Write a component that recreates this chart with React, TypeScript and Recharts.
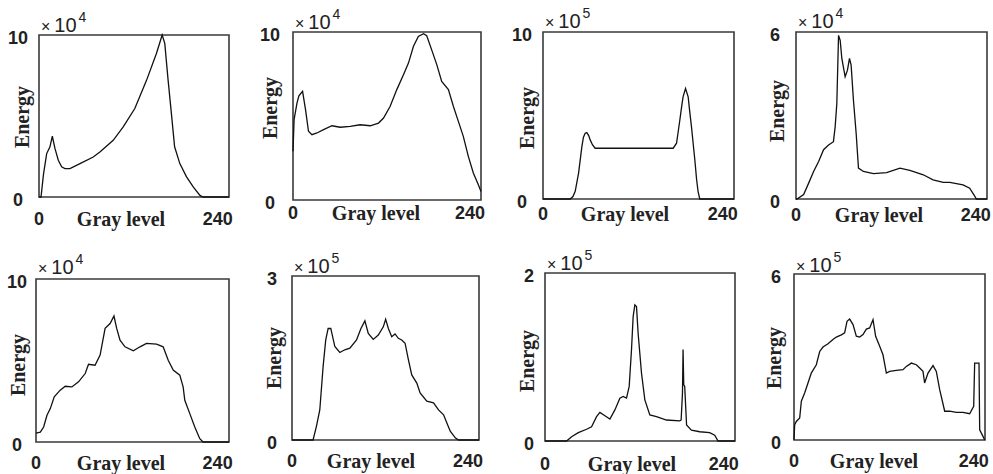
import React from "react";
import { LineChart, Line, XAxis, YAxis, ReferenceArea } from "recharts";

type Pt = [number, number];

// gray level, energy (in units of the panel's ×10^n)
const hist1: Pt[] = [
  [0, 0], [2.7, 0], [6, 1.4], [10.3, 2.68], [14.7, 3.1], [17.9, 3.75], [21.4, 3.0], [25.9, 2.27],
  [30.4, 1.86], [34.8, 1.75], [41.5, 1.75], [55, 2.06], [72.8, 2.47], [81.7, 2.78], [99.6, 3.5],
  [113, 4.33], [128.6, 5.46], [144.3, 7.2], [157.7, 8.87], [165.3, 10], [168.8, 9.48], [173.3, 7.2],
  [177.7, 5.15], [182, 3.1], [189, 2.06], [198, 1.24], [207, 0.62], [216, 0.1], [220, 0], [255, 0],
];
const hist2: Pt[] = [
  [0, 2.9], [1.5, 4.8], [5.4, 5.77], [8, 6.2], [13, 6.47], [17, 5.38], [21, 4.09], [25.7, 3.89],
  [32.5, 3.99], [41.5, 4.19], [52.8, 4.42], [64, 4.33], [77.6, 4.38], [91, 4.48], [104.7, 4.42],
  [116, 4.58], [122.8, 4.88], [131.8, 5.58], [140.8, 6.57], [149.8, 7.46], [156.6, 8.15],
  [163.4, 9.15], [170, 9.74], [177, 9.9], [181.4, 9.78], [188, 8.95], [195, 8.06], [201.7, 7.06],
  [210.8, 6.57], [217.5, 5.58], [224.3, 4.68], [231, 3.79], [237.8, 2.6], [244.6, 1.61],
  [251.4, 0.91], [255, 0.5],
];
const hist3: Pt[] = [
  [0, 0], [36.4, 0], [40, 0.15], [43, 0.46], [47.5, 1.55], [51.9, 3.14], [54, 3.7], [56.3, 3.94],
  [58.5, 3.98], [61, 3.8], [63, 3.54], [66, 3.25], [69.6, 3.04], [173.8, 3.04], [178.3, 3.34],
  [182.7, 4.73], [185, 5.5], [187, 6.12], [190.3, 6.62], [193.8, 6.12], [195.5, 5.4], [198.2, 4.33],
  [202.7, 2.35], [205, 1.2], [207, 0.46], [209.3, 0], [255, 0],
];
const hist4: Pt[] = [
  [0, 0], [1.3, 0], [10.2, 0.16], [16.9, 0.57], [23.5, 0.99], [30.2, 1.35], [36.8, 1.77],
  [43.5, 1.94], [50, 2.06], [52.3, 2.6], [54.5, 3.43], [56.8, 5.88], [59, 5.7], [61.2, 5.05],
  [65.6, 4.39], [68.7, 4.63], [71.4, 5.05], [73.6, 4.81], [76.7, 3.55], [80.3, 2.36], [83.4, 1.11],
  [90, 0.99], [103.3, 0.91], [121, 0.95], [138.8, 1.11], [152, 1.03], [169.9, 0.87], [183, 0.69],
  [196.5, 0.6], [205.3, 0.6], [223, 0.51], [231.9, 0.39], [238.6, 0.1], [240.8, 0], [255, 0],
];
const hist5: Pt[] = [
  [0, 0.55], [5.7, 0.61], [10.1, 0.92], [14.5, 1.64], [18.9, 2.05], [24.1, 2.77], [32, 3.18],
  [38.6, 3.42], [47.4, 3.38], [56.2, 3.69], [65, 4.2], [69.4, 4.77], [78, 4.71], [84.7, 5.33],
  [91.3, 6.97], [97.9, 7.27], [103, 7.73], [106.6, 6.97], [111, 6.25], [117.6, 5.84], [128.6, 5.59],
  [137.4, 5.84], [146, 6.05], [159.3, 6.0], [168, 5.84], [174.7, 5.02], [181.3, 4.41], [190, 4.1],
  [194.4, 3.38], [196.6, 2.56], [203.2, 1.74], [209.8, 0.92], [216.4, 0.2], [220.8, 0], [255, 0],
];
const hist6: Pt[] = [
  [0, 0], [28.7, 0], [33.3, 0.25], [37.9, 0.55], [42.4, 1.34], [46, 1.83], [49.3, 2.04],
  [52.9, 2.04], [58.4, 1.71], [65.2, 1.6], [72, 1.65], [78.9, 1.68], [88, 1.83], [94, 2.04],
  [99.4, 2.18], [104, 1.95], [110.8, 1.84], [117.7, 1.92], [124.5, 2.07], [127.7, 2.21],
  [131.4, 2.04], [136, 1.89], [140.5, 1.94], [145, 1.86], [149.6, 1.83], [154.2, 1.77],
  [158.7, 1.47], [163.3, 1.19], [170.2, 1.04], [174.7, 0.86], [183.8, 0.71], [193, 0.68],
  [199.8, 0.55], [206.7, 0.46], [211.2, 0.31], [215.8, 0.16], [222.6, 0.04], [227.2, 0], [255, 0],
];
const hist7: Pt[] = [
  [0, 0], [29, 0], [35.7, 0.05], [44.7, 0.1], [55.8, 0.14], [62.5, 0.17], [69.2, 0.29],
  [73.7, 0.34], [80.4, 0.3], [87.1, 0.26], [93.8, 0.37], [100.5, 0.51], [104.9, 0.53],
  [109.4, 0.51], [113, 0.65], [116.1, 1.09], [118.3, 1.48], [120.6, 1.62], [122.8, 1.6],
  [125, 1.28], [129.5, 0.81], [134, 0.49], [140.7, 0.31], [149.6, 0.29], [163, 0.25],
  [180.9, 0.24], [182.7, 0.25], [184.5, 0.57], [185.3, 1.09], [186.2, 0.67], [187.5, 0.65],
  [190, 0.19], [196.5, 0.13], [207.7, 0.11], [221, 0.1], [227.8, 0.07], [232.2, 0], [255, 0],
];
const hist8: Pt[] = [
  [0, 0.01], [0.9, 0.55], [3.1, 0.67], [7.6, 0.8], [9.8, 1.4], [14.2, 1.7], [18.7, 2.06],
  [23.1, 2.42], [29.8, 2.72], [34.3, 3.2], [38.7, 3.36], [45.4, 3.48], [52, 3.63], [56.5, 3.72],
  [63.2, 3.8], [67.6, 3.87], [70.8, 4.29], [74.3, 4.37], [78.8, 4.17], [83.2, 3.75], [87.7, 3.72],
  [92.1, 3.81], [96.6, 4.01], [101, 4.05], [105.5, 4.35], [109, 3.75], [114.4, 3.39],
  [118.8, 3.08], [123.3, 2.42], [127.7, 2.48], [136.6, 2.52], [145.5, 2.54], [150, 2.66],
  [156.7, 2.78], [163.3, 2.72], [167.8, 2.6], [172.2, 2.48], [174.4, 2.06], [178.9, 2.42],
  [185.6, 2.69], [190, 2.48], [194.5, 1.82], [201.2, 1.04], [207.8, 1.04], [216.7, 1.0],
  [225.6, 1.0], [234.5, 0.95], [239.9, 1.22], [241.2, 2.78], [247, 2.78], [247.9, 0.37],
  [252.3, 0.13], [254.6, 0],
];

const histograms = [hist1, hist2, hist3, hist4, hist5, hist6, hist7, hist8];
const yMaxes = [10, 10, 10, 6, 10, 3, 2, 6];
const exponents = [4, 4, 5, 4, 4, 5, 5, 5];
const xTicks = [0, 240];
const xLabel = "Gray level";
const yLabel = "Energy";

// where each plot box sits on the page, plus small label offsets
const layout = [
  { left: 39, top: 35, w: 190, h: 162, yTickDx: 21, xTickDy: 22, grayDx: 82, energyDx: -17, energyDy: 1, expDy: -3 },
  { left: 293, top: 32, w: 188, h: 168, yTickDx: 23, xTickDy: 13, grayDx: 83, energyDx: -23, energyDy: -8, expDy: -3 },
  { left: 543, top: 32, w: 191, h: 167, yTickDx: 21, xTickDy: 15, grayDx: 82, energyDx: -16, energyDy: 2, expDy: -4 },
  { left: 796, top: 32, w: 191, h: 167, yTickDx: 21, xTickDy: 16, grayDx: 83, energyDx: -19, energyDy: -5, expDy: -4 },
  { left: 36, top: 279, w: 193, h: 163, yTickDx: 19, xTickDy: 21, grayDx: 85, energyDx: -18, energyDy: 4, expDy: -5 },
  { left: 292, top: 276, w: 187, h: 164, yTickDx: 20, xTickDy: 21, grayDx: 79, energyDx: -18, energyDy: 0, expDy: -3 },
  { left: 545, top: 273, w: 190, h: 168, yTickDx: 16, xTickDy: 23, grayDx: 87, energyDx: -18, energyDy: 4, expDy: -3 },
  { left: 794, top: 274, w: 191, h: 166, yTickDx: 18, xTickDy: 21, grayDx: 80, energyDx: -20, energyDy: 1, expDy: -2 },
];

const INK = "#222";
const tickFont = { fontFamily: "'Liberation Sans', Arial, sans-serif", fontSize: 18, fontWeight: 700, fill: INK };
const serif = "'Liberation Serif', 'Times New Roman', serif";

const PADL = 40;
const PADR = 10;
const PADT = 10;
const PADB = 40;

function Panel({ idx }: { idx: number }) {
  const lay = layout[idx];
  const yMax = yMaxes[idx];
  const rows = histograms[idx].map(([g, e]) => ({ g, e }));

  return (
    <>
      <div style={{ position: "absolute", left: lay.left - PADL, top: lay.top - PADT }}>
        <LineChart
          width={lay.w + PADL + PADR}
          height={lay.h + PADT + PADB}
          data={rows}
          margin={{ top: PADT, right: PADR, bottom: 0, left: 0 }}
        >
          <XAxis
            dataKey="g"
            type="number"
            domain={[0, 255]}
            ticks={xTicks}
            interval={0}
            height={PADB}
            axisLine={false}
            tickLine={false}
            tickSize={0}
            tickMargin={0}
            tick={(p: any) => (
              <text x={p.x} y={p.y + lay.xTickDy} textAnchor="middle" dominantBaseline="central" style={tickFont}>
                {p.payload.value}
              </text>
            )}
          />
          <YAxis
            type="number"
            domain={[0, yMax]}
            ticks={[0, yMax]}
            interval={0}
            width={PADL}
            axisLine={false}
            tickLine={false}
            tickSize={0}
            tickMargin={0}
            tick={(p: any) => (
              <text x={p.x - lay.yTickDx} y={p.y + 3} textAnchor="middle" dominantBaseline="central" style={tickFont}>
                {p.payload.value}
              </text>
            )}
          />
          <ReferenceArea x1={0} x2={255} y1={0} y2={yMax} fill="none" stroke="#3a3a3a" strokeWidth={1.6} />
          <Line
            type="linear"
            dataKey="e"
            stroke="#111"
            strokeWidth={1.3}
            dot={false}
            isAnimationActive={false}
          />
        </LineChart>
      </div>

      <div
        style={{
          position: "absolute",
          left: lay.left + 2,
          top: lay.top + lay.expDy - 17,
          fontFamily: "'Liberation Sans', Arial, sans-serif",
          fontSize: 20,
          lineHeight: "20px",
          color: INK,
          whiteSpace: "nowrap",
        }}
      >
        <span style={{ fontSize: 16, marginRight: 4 }}>×</span>10
        <span style={{ fontSize: 14, position: "relative", top: -10, marginLeft: 2 }}>{exponents[idx]}</span>
      </div>

      <div
        style={{
          position: "absolute",
          left: lay.left + lay.energyDx,
          top: lay.top + lay.h / 2 + lay.energyDy,
          transform: "translate(-50%, -50%) rotate(-90deg)",
          fontFamily: serif,
          fontSize: 20,
          fontWeight: 700,
          lineHeight: "20px",
          color: INK,
          whiteSpace: "nowrap",
        }}
      >
        {yLabel}
      </div>

      <div
        style={{
          position: "absolute",
          left: lay.left + lay.grayDx,
          top: lay.top + lay.h + lay.xTickDy,
          transform: "translate(-50%, -50%)",
          fontFamily: serif,
          fontSize: 20,
          fontWeight: 700,
          lineHeight: "20px",
          color: INK,
          whiteSpace: "nowrap",
        }}
      >
        {xLabel}
      </div>
    </>
  );
}

export default function App() {
  return (
    <div style={{ position: "absolute", left: 0, top: 0, width: 993, height: 474, background: "#fff" }}>
      {histograms.map((_, i) => (
        <Panel key={i} idx={i} />
      ))}
    </div>
  );
}
